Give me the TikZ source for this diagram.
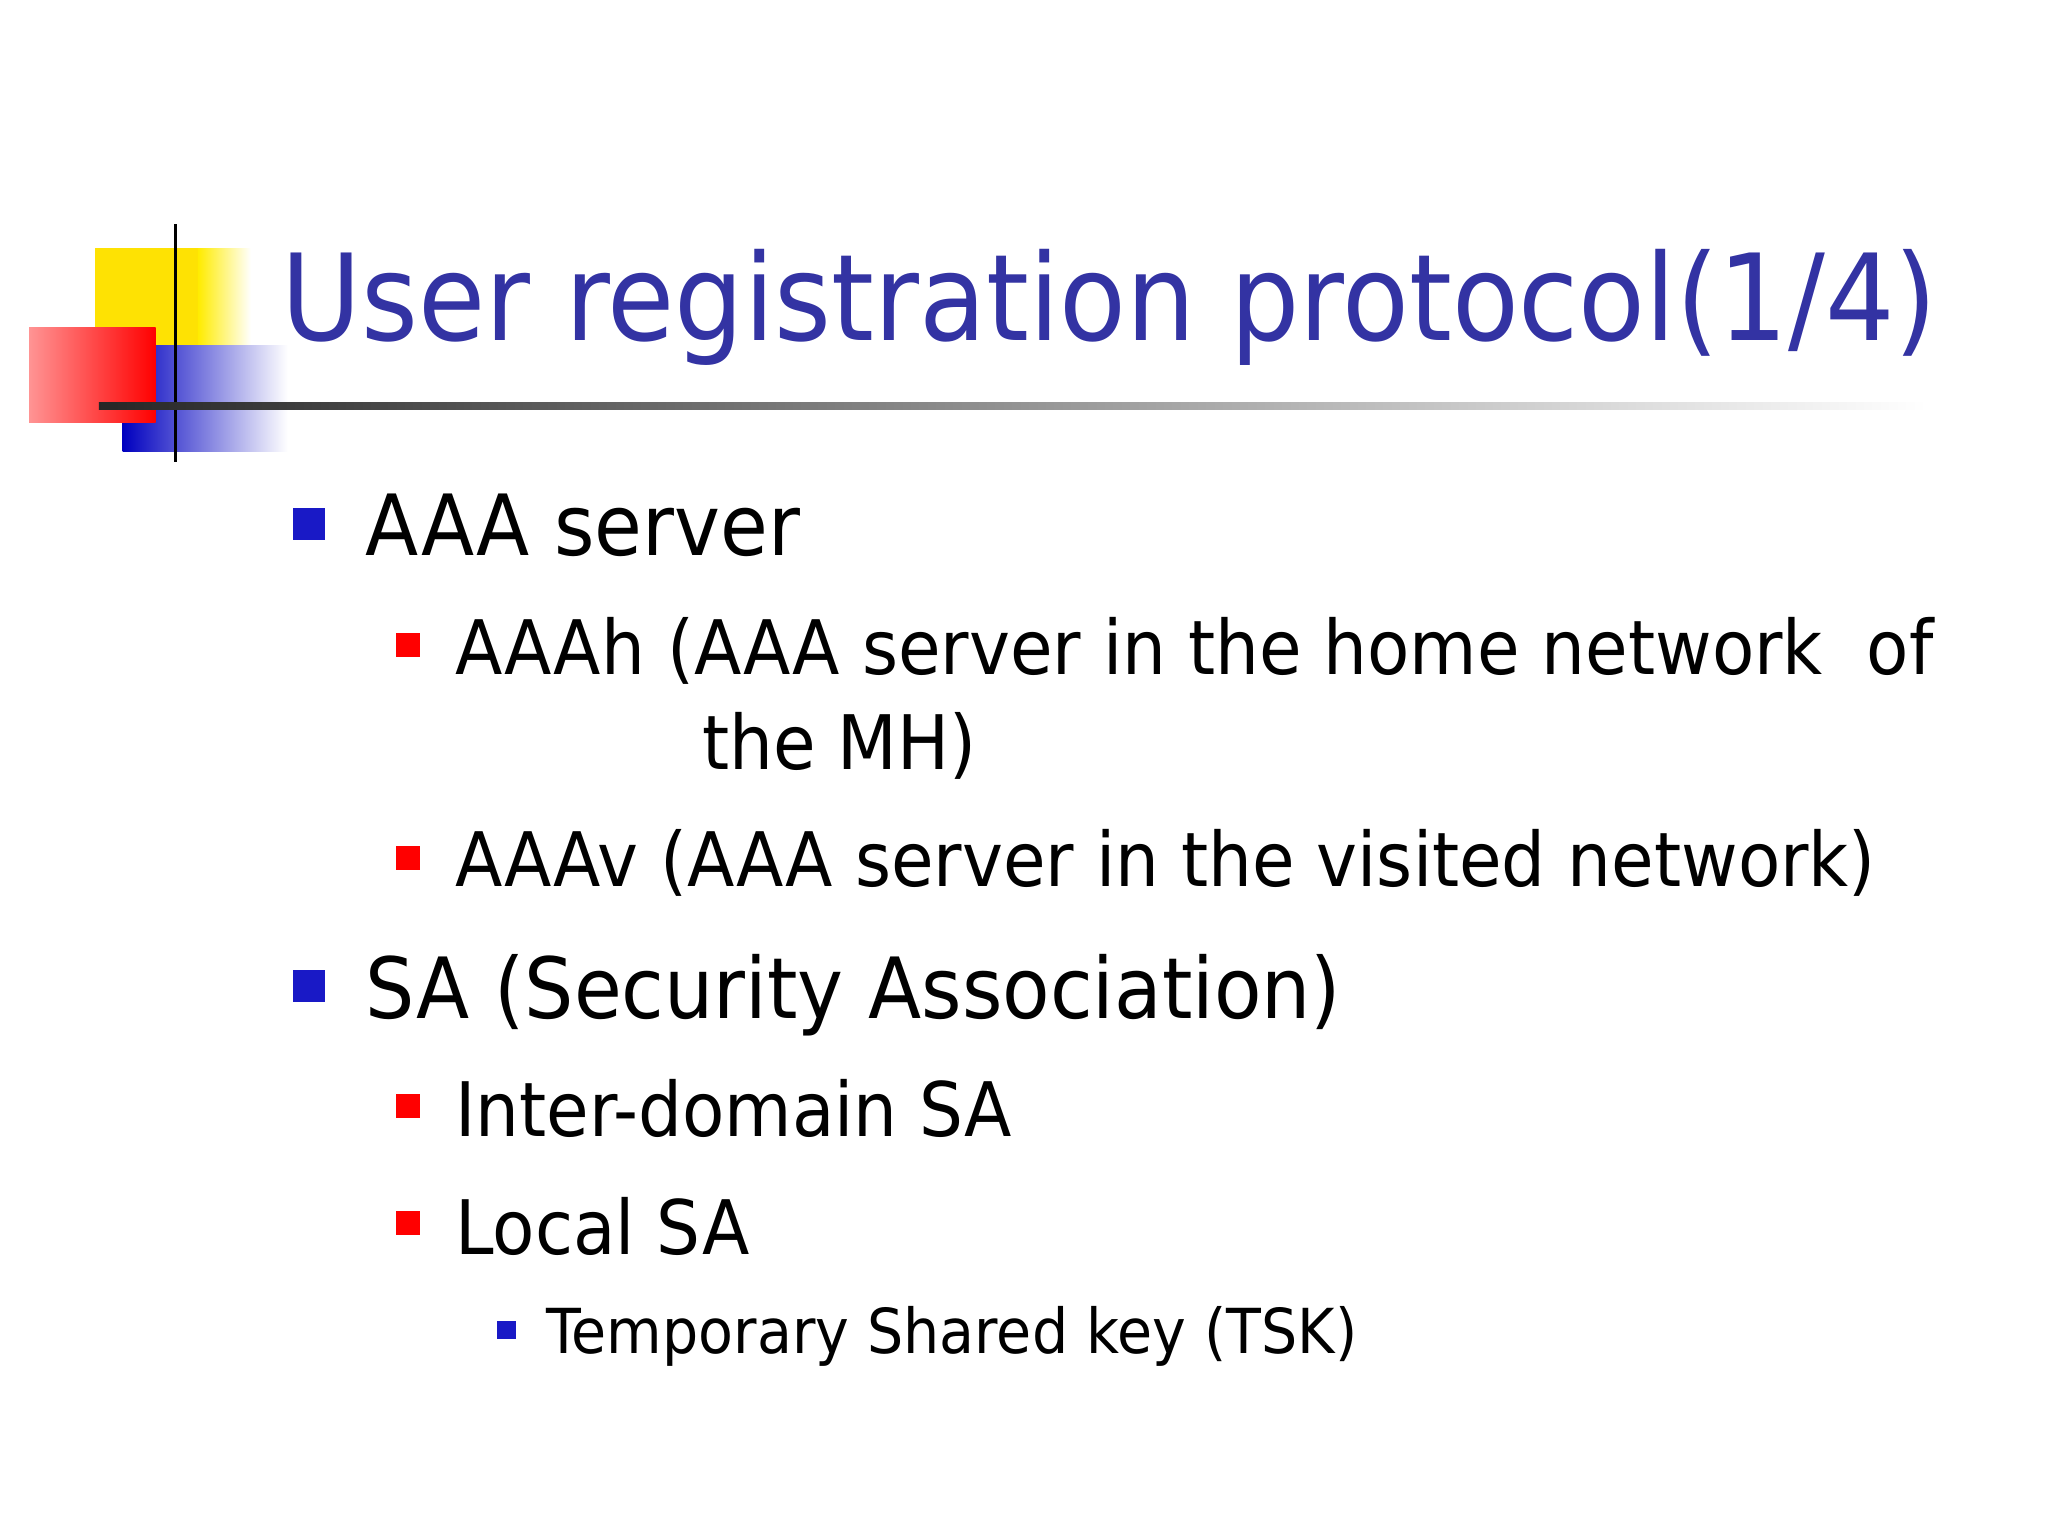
\documentclass[tikz,border=0pt]{standalone}
\usepackage{fontspec}
\setmainfont{DejaVu Sans}
\newfontfamily\condfont[FakeStretch=0.92]{DejaVu Sans}
\newfontfamily\titlefont[FakeStretch=0.91]{DejaVu Sans}
\begin{document}
\begin{tikzpicture}[x=1pt,y=-1pt,
  title/.style={anchor=base west,inner sep=0,text=blue!55!black!80,font=\titlefont\fontsize{91}{91}\selectfont},
  lone/.style={anchor=base west,inner sep=0,font=\condfont\fontsize{64}{64}\selectfont},
  ltwo/.style={anchor=base west,inner sep=0,font=\condfont\fontsize{57}{57}\selectfont},
  lthree/.style={anchor=base west,inner sep=0,font=\condfont\fontsize{47}{47}\selectfont},
  bblue/.style={fill=blue!75!black!90},
  bred/.style={fill=red}]
\useasboundingbox (0,0) rectangle (1552,1164);
\fill[white] (0,0) rectangle (1552,1164);
% decoration
\fill[yellow!85!orange] (72,188) rectangle (185,300);
\shade[left color=yellow!85!orange,right color=white] (150,188) rectangle (190,262);
\shade[left color=blue!75!black,right color=white] (93,262) rectangle (218,342);
\shade[left color=red!70!white!60,right color=red] (22,248) rectangle (118,320);
\draw[line width=3pt] (133,170) -- (133,350);
\shade[left color=black!85,right color=white] (75,305) rectangle (1460,310);
% title
\node[title] (t) at (213,258) {User registration protocol(1/4)};
% bullets
\fill[bblue] (222,385) rectangle (246,409);
\node[lone] (a) at (277,421) {AAA server};
\fill[bred] (300,480) rectangle (318,498);
\node[ltwo] (b) at (345,511) {AAAh (AAA server in the home network\ \ of};
\node[ltwo] (b2) at (532,583) {the MH)};
\fill[bred] (300,641) rectangle (318,659);
\node[ltwo] (c) at (345,672) {AAAv (AAA server in the visited network)};
\fill[bblue] (222,735) rectangle (246,759);
\node[lone] (d) at (277,772) {SA (Security Association)};
\fill[bred] (300,829) rectangle (318,847);
\node[ltwo] (e) at (345,861) {Inter-domain SA};
\fill[bred] (300,918) rectangle (318,936);
\node[ltwo] (f) at (345,951) {Local SA};
\fill[bblue] (377,1001) rectangle (391,1015);
\node[lthree] (g) at (414,1026) {Temporary Shared key (TSK)};
\end{tikzpicture}
\end{document}
